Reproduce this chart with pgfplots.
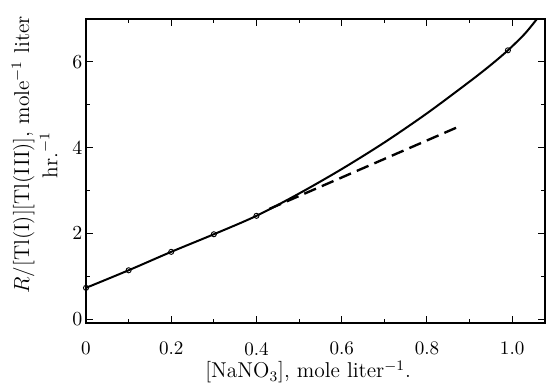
\documentclass[border=0pt]{standalone}
\usepackage{pgfplots}
\pgfplotsset{compat=1.18}
\begin{document}
\begin{tikzpicture}
\useasboundingbox (-47.3pt,-32.45pt) rectangle (255.2pt,177.65pt);
\begin{axis}[
  at={(0,0)}, anchor=south west,
  width=252.45pt, height=167.2pt, scale only axis,
  xmin=0, xmax=1.077, ymin=-0.09, ymax=7.0,
  xtick={0,0.2,0.4,0.6,0.8,1.0},
  xticklabels={0,0.2,0.4,0.6,0.8,1.0},
  minor xtick={0.1,0.3,0.5,0.7,0.9},
  ytick={0,2,4,6}, minor ytick={1,3,5},
  tick align=inside,
  major tick length=4pt, minor tick length=2.2pt,
  axis line style={line width=0.8pt},
  every tick/.style={black, line width=0.6pt},
  tick label style={font=\fontsize{10.5}{12}\selectfont},
  xticklabel style={yshift=-7pt},
  yticklabel style={xshift=1.5pt},
  xlabel={[NaNO$_3$], mole liter$^{-1}$.},
  xlabel style={font=\fontsize{11.8}{13}\selectfont, at={(axis description cs:0.484,-0.161)}, anchor=center},
  ylabel={$R$/[Tl(I)][Tl(III)], mole$^{-1}$ liter\\[2.5pt]hr.$^{-1}$},
  ylabel style={font=\fontsize{11.8}{13}\selectfont, align=center, at={(axis description cs:-0.112,0.553)}, anchor=center},
  clip=true,
]
\addplot[black, line width=1.1pt, smooth] coordinates {
  (0,0.73) (0.1,1.14) (0.2,1.57) (0.3,1.98) (0.4,2.41) (0.5,2.93)
  (0.6,3.50) (0.7,4.12) (0.8,4.80) (0.9,5.54) (0.95,5.93) (0.99,6.27)
  (1.03,6.66) (1.062,7.05)
};
\addplot[black, line width=1.3pt, dash pattern=on 7pt off 3.5pt] coordinates {
  (0.43,2.57) (0.87,4.47)
};
\addplot[only marks, mark=o, mark size=1.4pt, mark options={fill=white, line width=0.5pt, draw=black}] coordinates {
  (0,0.73) (0.1,1.14) (0.2,1.57) (0.3,1.98) (0.4,2.41) (0.99,6.27)
};
\end{axis}
\end{tikzpicture}
\end{document}
